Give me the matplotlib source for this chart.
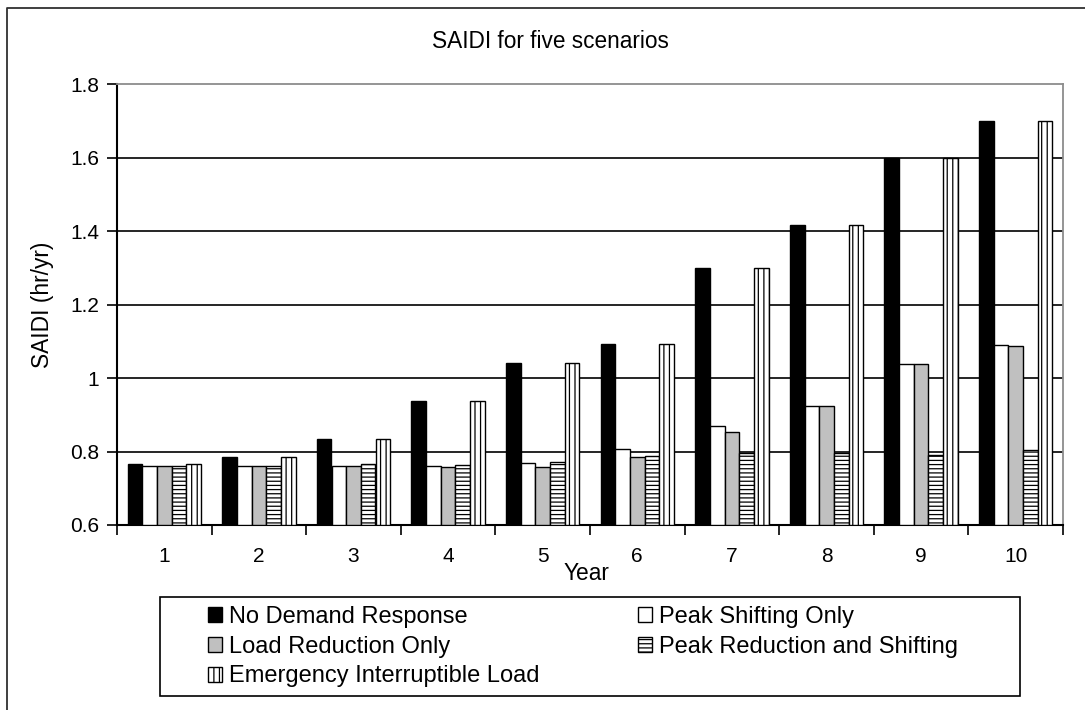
import matplotlib
matplotlib.use("Agg")
import matplotlib.pyplot as plt
import numpy as np
from matplotlib.patches import Rectangle
from matplotlib.lines import Line2D

plt.rcParams['font.family'] = ['Liberation Sans', 'DejaVu Sans']
plt.rcParams['hatch.linewidth'] = 0.9

# SAIDI values (hr/yr) per year for each scenario
years = ['1', '2', '3', '4', '5', '6', '7', '8', '9', '10']
no_demand_response = [0.765, 0.785, 0.835, 0.938, 1.042, 1.093, 1.298, 1.416, 1.598, 1.700]
peak_shifting_only = [0.760, 0.760, 0.760, 0.760, 0.768, 0.806, 0.869, 0.924, 1.039, 1.090]
load_reduction_only = [0.760, 0.760, 0.760, 0.757, 0.758, 0.785, 0.853, 0.924, 1.039, 1.086]
peak_reduction_shifting = [0.760, 0.760, 0.765, 0.763, 0.771, 0.789, 0.795, 0.795, 0.790, 0.805]
emergency_interruptible = [0.765, 0.785, 0.835, 0.938, 1.042, 1.093, 1.298, 1.416, 1.598, 1.700]

series = [
    ("No Demand Response", no_demand_response, 'black', None),
    ("Peak Shifting Only", peak_shifting_only, 'white', None),
    ("Load Reduction Only", load_reduction_only, '#c0c0c0', None),
    ("Peak Reduction and Shifting", peak_reduction_shifting, 'white', '----'),
    ("Emergency Interruptible Load", emergency_interruptible, 'white', '|||'),
]

W, H = 1085, 710
fig = plt.figure(figsize=(W / 100, H / 100), dpi=100)


def fx(px):
    return px / W


def fy(py):
    return 1 - py / H


ax = fig.add_axes([fx(117), fy(525), fx(1063) - fx(117), fy(84) - fy(525)])

n = len(series)
gap = 1.45
bw = 1.0 / (n + gap)
centers = np.arange(len(years)) + 0.5
ymin = 0.6
bars = []
for i, (name, vals, color, hatch) in enumerate(series):
    x = centers + (i - (n - 1) / 2) * bw
    b = ax.bar(x, np.array(vals) - ymin, bottom=ymin, width=bw, color=color,
               edgecolor='black', linewidth=1.0, hatch=hatch, label=name, zorder=3)
    bars.append(b)

ax.set_xlim(0, len(years))
ax.set_ylim(0.6, 1.8)
yt = [0.6, 0.8, 1.0, 1.2, 1.4, 1.6, 1.8]
ax.set_yticks(yt)
ax.set_yticklabels(['0.6', '0.8', '1', '1.2', '1.4', '1.6', '1.8'])
ax.set_xticks(np.arange(len(years) + 1))
ax.set_xticklabels([])
ax.set_xticks(centers, minor=True)
ax.set_xticklabels(years, minor=True)
ax.tick_params(axis='x', which='major', direction='out', length=7, width=1.2, color='black')
ax.tick_params(axis='x', which='minor', length=0, pad=16, labelsize=15)
ax.tick_params(axis='y', direction='out', length=7, width=1.2, labelsize=15, pad=6)

for v in [0.8, 1.0, 1.2, 1.4, 1.6]:
    ax.axhline(v, color='black', linewidth=1.2, zorder=1)

ax.spines['left'].set_color('black')
ax.spines['left'].set_linewidth(1.5)
ax.spines['bottom'].set_color('black')
ax.spines['bottom'].set_linewidth(1.5)
ax.spines['top'].set_color('#8c8c8c')
ax.spines['top'].set_linewidth(1.3)
ax.spines['right'].set_color('#8c8c8c')
ax.spines['right'].set_linewidth(1.3)

ax.set_ylabel('SAIDI (hr/yr)', fontsize=16.4)
ax.yaxis.set_label_coords((54 - 117) / 946, 0.5)
ax.set_xlabel('Year', fontsize=16.4)
ax.xaxis.set_label_coords((586 - 117) / 946, -(574 - 525) / 441)
ax.xaxis.label.set_va('center')

fig.text(fx(550), fy(41), 'SAIDI for five scenarios', fontsize=16.3,
         ha='center', va='center')

# legend laid out in rows: column one holds 1st/3rd/5th entries
order = [0, 2, 4, 1, 3]
handles = [bars[i] for i in order]
labels = [series[i][0] for i in order]
fig.legend(handles, labels, loc='upper left', ncol=2, mode='expand',
           bbox_to_anchor=(fx(196), fy(594), fx(970) - fx(196), 0),
           frameon=False, borderpad=0, fontsize=17, handlelength=0.6,
           handleheight=0.6, handletextpad=0.3, labelspacing=0.33)
fig.patches.append(Rectangle((fx(160), fy(696)), fx(1020) - fx(160), fy(597) - fy(696),
                             transform=fig.transFigure, fill=False,
                             edgecolor='black', linewidth=1.2))

# chart area frame
fig.add_artist(Line2D([fx(6.5), fx(6.5), fx(1090)], [fy(715), fy(8), fy(8)],
                      transform=fig.transFigure, color='#303030', linewidth=1.3))

fig.savefig('out.png', dpi=100)
